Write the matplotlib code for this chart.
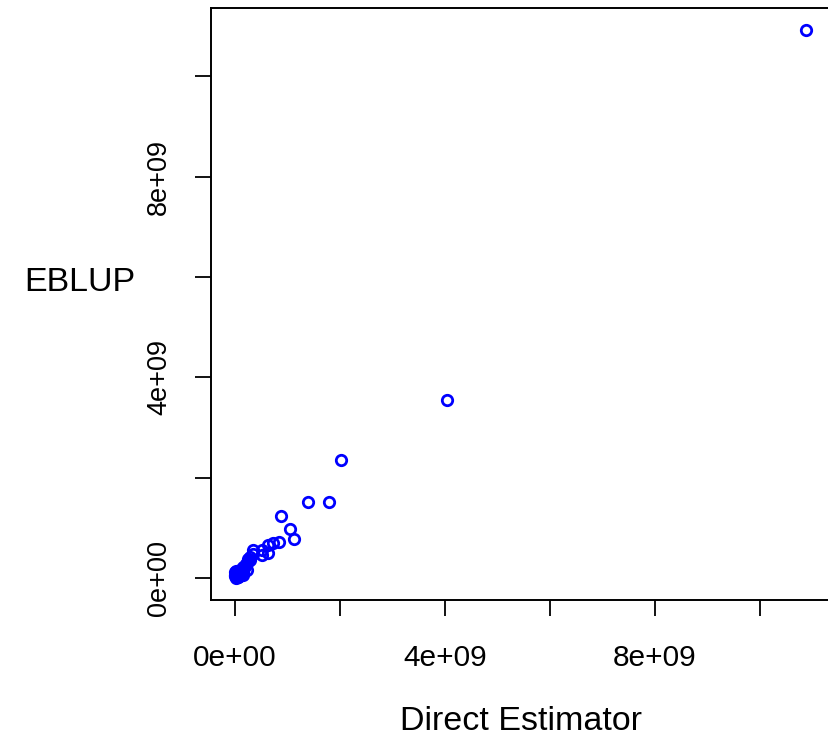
import numpy as np
import matplotlib
matplotlib.use("Agg")
from matplotlib import pyplot as plt

plt.rcParams['font.family'] = ['Liberation Sans', 'DejaVu Sans']

# values, in units of 1e9
direct = [10.88, 4.05, 2.02, 1.79, 1.39, 0.88, 1.05, 1.13, 0.84, 0.73,
          0.63, 0.53, 0.34, 0.63, 0.53, 0.34, 0.29, 0.23, 0.15, 0.10,
          0.04, 0.0, 0.06, 0.15, 0.23, 0.0, 0.02, 0.29, 0.19, 0.08,
          0.12, 0.05, 0.02, 0.10, 0.18, 0.26, 0.21, 0.03, 0.07, 0.13,
          0.01, 0.09, 0.16, 0.25]
eblup = [10.92, 3.55, 2.35, 1.51, 1.51, 1.24, 0.98, 0.78, 0.72, 0.70,
         0.66, 0.56, 0.56, 0.50, 0.46, 0.48, 0.36, 0.30, 0.22, 0.16,
         0.10, 0.06, 0.02, 0.06, 0.16, 0.12, 0.0, 0.42, 0.24, 0.04,
         0.08, 0.04, 0.08, 0.12, 0.20, 0.38, 0.28, 0.14, 0.02, 0.10,
         0.03, 0.06, 0.12, 0.33]
ticks = [0, 2e9, 4e9, 6e9, 8e9, 10e9]
tick_labels = ["0e+00", "", "4e+09", "", "8e+09", ""]

x = np.array(direct) * 1e9
y = np.array(eblup) * 1e9

fig = plt.figure(figsize=(8.29, 7.41), dpi=100)
ax = fig.add_axes([211/829, 1-600/741, 619/829, 592/741])
ax.plot(x, y, 'o', mfc='none', mec='#0000ff', ms=7.5, mew=2)

ax.set_xlim(-0.45e9, 11.33e9)
ax.set_ylim(-0.44e9, 11.36e9)
ax.set_xticks(ticks)
ax.set_xticklabels(tick_labels, fontsize=21.5)
ax.set_yticks(ticks)
ax.set_yticklabels(tick_labels, fontsize=19.5, rotation=90, va='center')
ax.tick_params(axis='x', length=11.5, width=1.3, pad=20)
ax.tick_params(axis='y', length=11.5, width=1.3, pad=16.5)
for s in ax.spines.values():
    s.set_linewidth(1.4)
ax.spines['right'].set_visible(False)

fig.text(521/829, 1-722/741, "Direct Estimator", fontsize=24.5, ha='center', va='center')
fig.text(80/829, 1-282/741, "EBLUP", fontsize=24.5, ha='center', va='center')

fig.savefig("out.png", dpi=100)
